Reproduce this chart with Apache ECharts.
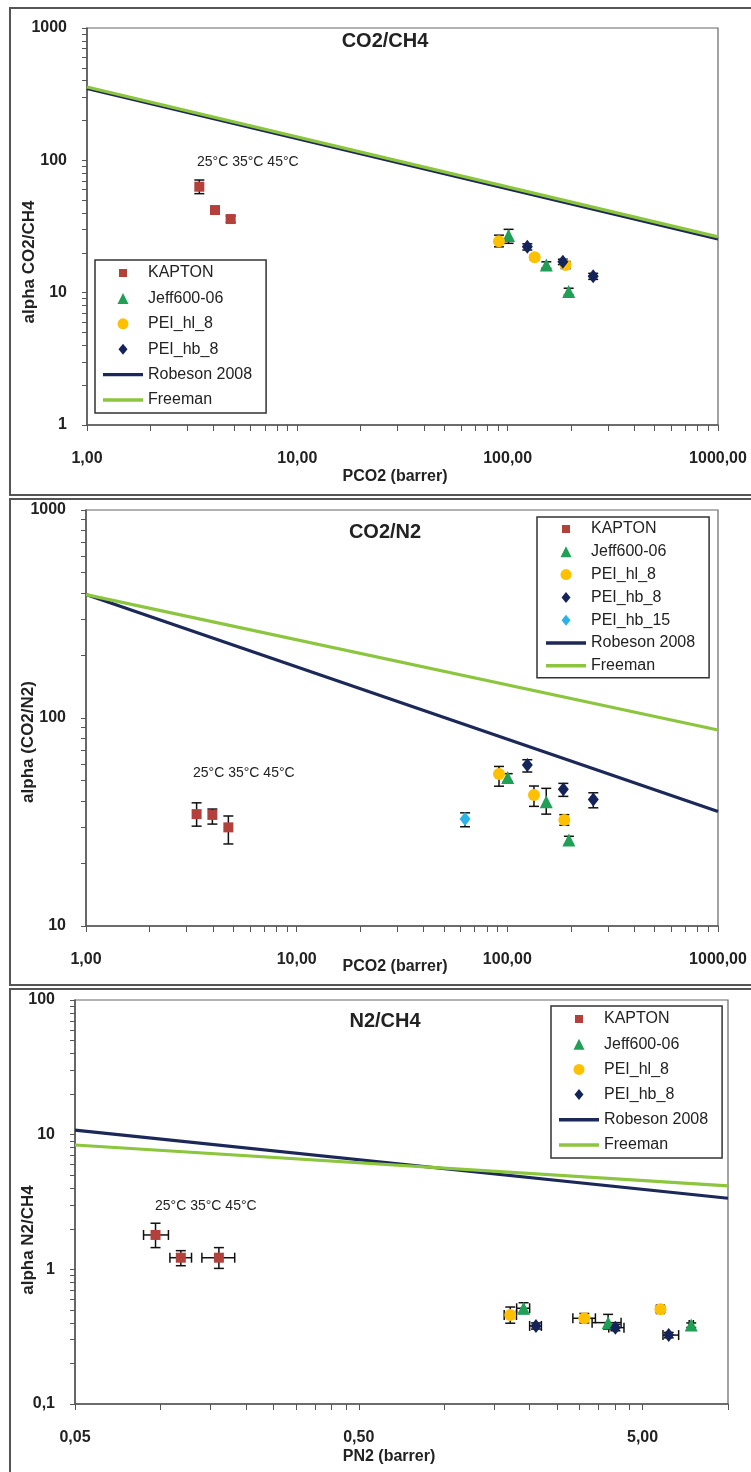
<!DOCTYPE html>
<html><head><meta charset="utf-8">
<script src="https://cdn.jsdelivr.net/npm/echarts@6/dist/echarts.min.js"></script>
<style>html,body{margin:0;padding:0;background:#fff}#c{width:751px;height:1472px}</style>
</head><body><div id="c"></div>
<script>
// ---------- DATA ----------
// points: [x, y, yLow, yHigh]  (panel 3 adds xLow, xHigh)
// Panel 1 : CO2/CH4 vs PCO2
const p1_KAPTON  = [[3.42, 63.2, 56, 71], [4.06, 42.1, 39.5, 44.5], [4.82, 36.0, 34, 38]];
const p1_Jeff    = [[101, 27.0, 23.6, 30.1], [152.7, 16.2, 15.3, 17.1], [195, 10.2, 9.6, 10.8]];
const p1_PEI_hl8 = [[90.9, 24.5, 22.2, 27.2], [134.4, 18.5, 17.8, 19.2], [188.6, 16.2, 15.2, 17.2]];
const p1_PEI_hb8 = [[124, 22.2, 21, 23.4], [183, 17.1, 16.3, 17.9], [255, 13.3, 12.6, 14]];
const p1_Robeson = [[1, 350], [1000, 25.5]];
const p1_Freeman = [[1, 358], [1000, 26.4]];

// Panel 2 : CO2/N2 vs PCO2
const p2_KAPTON   = [[3.35, 34.5, 30.2, 39.1], [3.98, 34.2, 30.9, 36.5], [4.74, 29.8, 24.8, 33.8]];
const p2_Jeff     = [[100.4, 51.8, 49.5, 54], [153, 39.6, 34.5, 45.9], [196, 25.9, 24.8, 27]];
const p2_PEI_hl8  = [[91.3, 53.8, 47, 58.5], [133.8, 42.6, 37.6, 47.1], [186.4, 32.3, 30.5, 34.3]];
const p2_PEI_hb8  = [[124.4, 59.4, 55, 63], [184.4, 45.4, 42, 48.5], [255.9, 40.6, 37, 43.7]];
const p2_PEI_hb15 = [[63, 32.7, 30, 35]];
const p2_Robeson  = [[1, 392], [1000, 35.5]];
const p2_Freeman  = [[1, 392], [1000, 87.6]];

// Panel 3 : N2/CH4 vs PN2   [x, y, yLow, yHigh, xLow, xHigh]
const p3_KAPTON  = [[0.0961, 1.80, 1.45, 2.20, 0.0872, 0.1067], [0.118, 1.22, 1.064, 1.376, 0.108, 0.1287], [0.1607, 1.22, 1.016, 1.45, 0.140, 0.1827]];
const p3_Jeff    = [[1.904, 0.514, 0.47, 0.565, 1.80, 2.0], [3.78, 0.402, 0.36, 0.463, 3.32, 4.2], [7.42, 0.386, 0.37, 0.40, 7.3, 7.55]];
const p3_PEI_hl8 = [[1.709, 0.458, 0.398, 0.525, 1.627, 1.797], [3.117, 0.433, 0.40, 0.47, 2.84, 3.41], [5.78, 0.505, 0.48, 0.53, 5.6, 5.95]];
const p3_PEI_hb8 = [[2.105, 0.38, 0.36, 0.40, 2.0, 2.2], [4.01, 0.369, 0.35, 0.39, 3.8, 4.3], [6.18, 0.325, 0.31, 0.34, 5.9, 6.7]];
const p3_Robeson = [[0.05, 10.8], [10, 3.37]];
const p3_Freeman = [[0.05, 8.38], [10, 4.16]];

// Tick values and labels
const p1_xTicks = [1, 10, 100, 1000];      const p1_xLabels = ['1,00', '10,00', '100,00', '1000,00'];
const p1_yTicks = [1, 10, 100, 1000];      const p1_yLabels = ['1', '10', '100', '1000'];
const p2_xTicks = [1, 10, 100, 1000];      const p2_xLabels = ['1,00', '10,00', '100,00', '1000,00'];
const p2_yTicks = [10, 100, 1000];         const p2_yLabels = ['10', '100', '1000'];
const p3_xTicks = [0.05, 0.5, 5];          const p3_xLabels = ['0,05', '0,50', '5,00'];
const p3_yTicks = [0.1, 1, 10, 100];       const p3_yLabels = ['0,1', '1', '10', '100'];

// ---------- STYLE ----------
const SANS = "'Liberation Sans', Arial, sans-serif";
const C = {
  KAPTON: '#B3403B', Jeff: '#1FA055', hl: '#FFC000', hb: '#14235A', hb15: '#2BB3E8',
  Robeson: '#1B2858', Freeman: '#8CC63E'
};
const sym = {
  KAPTON: {symbol: 'rect', symbolSize: 10},
  Jeff: {symbol: 'triangle', symbolSize: 13},
  hl: {symbol: 'circle', symbolSize: 12},
  hb: {symbol: 'diamond', symbolSize: [11, 14]},
  hb15: {symbol: 'diamond', symbolSize: [11, 14]}
};
// legend icons drawn in a 40 x 11 box
const BOX = 'M0,0 M40,11 ';
const ICON = {
  square: 'path://' + BOX + 'M16,1.5 h8 v8 h-8 z',
  triangle: 'path://' + BOX + 'M20,0 L25.5,11 L14.5,11 z',
  circle: 'path://' + BOX + 'M25.5,5.5 A5.5,5.5 0 1 1 14.5,5.5 A5.5,5.5 0 1 1 25.5,5.5 z',
  diamond: 'path://' + BOX + 'M20,0 L24.5,5.5 L20,11 L15.5,5.5 z',
  line: 'path://' + BOX + 'M0,3.8 h40 v3.4 h-40 z'
};
const LEG = {
  'KAPTON': ICON.square, 'Jeff600-06': ICON.triangle, 'PEI_hl_8': ICON.circle,
  'PEI_hb_8': ICON.diamond, 'PEI_hb_15': ICON.diamond, 'Robeson 2008': ICON.line, 'Freeman': ICON.line
};

function allTicks(majors, max) {
  const out = [];
  majors.forEach(m => { for (let k = 1; k <= 9; k++) { const v = +(m * k).toPrecision(6); if (v <= max * 1.0000001) out.push(v); } });
  return out;
}
function labelFor(ticks, labels) {
  return function (v) {
    for (let i = 0; i < ticks.length; i++) if (Math.abs(v - ticks[i]) / ticks[i] < 1e-6) return labels[i];
    return '';
  };
}
function mkX(grid, min, max, ticks, labels) {
  return {
    type: 'log', logBase: 10, gridIndex: grid, min: min, max: max,
    axisLine: {show: true, lineStyle: {color: '#555', width: 1.5}},
    axisTick: {show: true, inside: false, length: 6, customValues: allTicks(ticks, max), lineStyle: {color: '#555', width: 1}},
    minorTick: {show: false},
    axisLabel: {show: true, customValues: ticks, formatter: labelFor(ticks, labels), margin: 26,
      fontFamily: SANS, fontWeight: 'bold', fontSize: 16, color: '#222'},
    splitLine: {show: false}
  };
}
function mkY(grid, min, max, ticks, labels) {
  return {
    type: 'log', logBase: 10, gridIndex: grid, min: min, max: max,
    axisLine: {show: true, lineStyle: {color: '#555', width: 1.5}},
    axisTick: {show: true, inside: false, length: 5, customValues: allTicks(ticks, max), lineStyle: {color: '#555', width: 1}},
    minorTick: {show: false},
    axisLabel: {show: true, customValues: ticks, formatter: labelFor(ticks, labels), margin: 20,
      fontFamily: SANS, fontWeight: 'bold', fontSize: 16, color: '#222'},
    splitLine: {show: false}
  };
}
function scatter(name, key, idx, pts) {
  return {
    type: 'scatter', name: name, xAxisIndex: idx, yAxisIndex: idx, z: 5,
    symbol: sym[key].symbol, symbolSize: sym[key].symbolSize,
    itemStyle: {color: C[key], opacity: 1},
    data: pts.map(p => [p[0], p[1]])
  };
}
function line(name, key, idx, pts) {
  return {
    type: 'line', name: name, xAxisIndex: idx, yAxisIndex: idx, z: 2,
    symbol: 'none', showSymbol: false, silent: true,
    lineStyle: {color: C[key], width: 3.2}, itemStyle: {color: C[key]},
    data: pts
  };
}
function renderErr(params, api) {
  const x = api.value(0), y = api.value(1);
  const lo = api.value(2), hi = api.value(3), xl = api.value(4), xh = api.value(5);
  const st = {stroke: '#111', lineWidth: 1.5};
  const cap = 5;
  const ch = [];
  if (isFinite(lo) && isFinite(hi)) {
    const a = api.coord([x, lo]), b = api.coord([x, hi]);
    ch.push({type: 'line', shape: {x1: a[0], y1: a[1], x2: b[0], y2: b[1]}, style: st});
    ch.push({type: 'line', shape: {x1: a[0] - cap, y1: a[1], x2: a[0] + cap, y2: a[1]}, style: st});
    ch.push({type: 'line', shape: {x1: b[0] - cap, y1: b[1], x2: b[0] + cap, y2: b[1]}, style: st});
  }
  if (isFinite(xl) && isFinite(xh)) {
    const a = api.coord([xl, y]), b = api.coord([xh, y]);
    ch.push({type: 'line', shape: {x1: a[0], y1: a[1], x2: b[0], y2: b[1]}, style: st});
    ch.push({type: 'line', shape: {x1: a[0], y1: a[1] - cap, x2: a[0], y2: a[1] + cap}, style: st});
    ch.push({type: 'line', shape: {x1: b[0], y1: b[1] - cap, x2: b[0], y2: b[1] + cap}, style: st});
  }
  return {type: 'group', children: ch};
}
function errors(idx, groups) {
  const d = [];
  groups.forEach(g => g.forEach(p => d.push([p[0], p[1], p[2], p[3], p.length > 4 ? p[4] : NaN, p.length > 5 ? p[5] : NaN])));
  return {
    type: 'custom', name: 'err' + idx, xAxisIndex: idx, yAxisIndex: idx, z: 4, silent: true,
    renderItem: renderErr, encode: {x: 0, y: 1}, data: d
  };
}
function legend(left, top, list, gap, pad) {
  return {
    orient: 'vertical', left: left, top: top, itemGap: gap,
    data: list.map(n => ({name: n, icon: LEG[n]})),
    itemWidth: 40, itemHeight: 11, padding: pad, selectedMode: false,
    borderColor: '#333', borderWidth: 1.5, backgroundColor: '#fff',
    textStyle: {fontFamily: SANS, fontSize: 16, lineHeight: 18, color: '#222'}
  };
}
function txt(x, y, s, font, align, rot) {
  return {type: 'text', x: x, y: y, rotation: rot || 0,
    style: {text: s, font: font, fill: '#222', align: align || 'center', verticalAlign: 'middle'}, z: 10};
}

const chart = echarts.init(document.getElementById('c'), null, {renderer: 'canvas'});
const four = ['KAPTON', 'Jeff600-06', 'PEI_hl_8', 'PEI_hb_8', 'Robeson 2008', 'Freeman'];
const five = ['KAPTON', 'Jeff600-06', 'PEI_hl_8', 'PEI_hb_8', 'PEI_hb_15', 'Robeson 2008', 'Freeman'];
const option = {
  animation: false,
  backgroundColor: '#fff',
  grid: [
    {left: 87, top: 28, width: 631, height: 397, show: true, borderColor: '#666', borderWidth: 1.2, backgroundColor: 'transparent'},
    {left: 86, top: 510, width: 632, height: 416, show: true, borderColor: '#666', borderWidth: 1.2, backgroundColor: 'transparent'},
    {left: 75, top: 1000, width: 653, height: 404, show: true, borderColor: '#666', borderWidth: 1.2, backgroundColor: 'transparent'}
  ],
  xAxis: [mkX(0, 1, 1000, p1_xTicks, p1_xLabels), mkX(1, 1, 1000, p2_xTicks, p2_xLabels), mkX(2, 0.05, 10, p3_xTicks, p3_xLabels)],
  yAxis: [mkY(0, 1, 1000, p1_yTicks, p1_yLabels), mkY(1, 10, 1000, p2_yTicks, p2_yLabels), mkY(2, 0.1, 100, p3_yTicks, p3_yLabels)],
  legend: [
    legend(95, 260, four, 7.4, [4, 14, 4, 8]),
    legend(537, 517, five, 4.8, [3, 14, 3, 9]),
    legend(551, 1006, four, 7.2, [4, 14, 4, 8])
  ],
  series: [
    line('Robeson 2008', 'Robeson', 0, p1_Robeson), line('Freeman', 'Freeman', 0, p1_Freeman),
    errors(0, [p1_KAPTON, p1_Jeff, p1_PEI_hl8, p1_PEI_hb8]),
    scatter('KAPTON', 'KAPTON', 0, p1_KAPTON), scatter('Jeff600-06', 'Jeff', 0, p1_Jeff),
    scatter('PEI_hl_8', 'hl', 0, p1_PEI_hl8), scatter('PEI_hb_8', 'hb', 0, p1_PEI_hb8),

    line('Robeson 2008', 'Robeson', 1, p2_Robeson), line('Freeman', 'Freeman', 1, p2_Freeman),
    errors(1, [p2_KAPTON, p2_Jeff, p2_PEI_hl8, p2_PEI_hb8, p2_PEI_hb15]),
    scatter('KAPTON', 'KAPTON', 1, p2_KAPTON), scatter('Jeff600-06', 'Jeff', 1, p2_Jeff),
    scatter('PEI_hl_8', 'hl', 1, p2_PEI_hl8), scatter('PEI_hb_8', 'hb', 1, p2_PEI_hb8),
    scatter('PEI_hb_15', 'hb15', 1, p2_PEI_hb15),

    line('Robeson 2008', 'Robeson', 2, p3_Robeson), line('Freeman', 'Freeman', 2, p3_Freeman),
    errors(2, [p3_KAPTON, p3_Jeff, p3_PEI_hl8, p3_PEI_hb8]),
    scatter('KAPTON', 'KAPTON', 2, p3_KAPTON), scatter('Jeff600-06', 'Jeff', 2, p3_Jeff),
    scatter('PEI_hl_8', 'hl', 2, p3_PEI_hl8), scatter('PEI_hb_8', 'hb', 2, p3_PEI_hb8)
  ],
  graphic: [
    {type: 'rect', shape: {x: 10, y: 8, width: 760, height: 487}, style: {fill: 'none', stroke: '#555', lineWidth: 2}, z: 0, silent: true},
    {type: 'rect', shape: {x: 10, y: 499, width: 760, height: 486}, style: {fill: 'none', stroke: '#555', lineWidth: 2}, z: 0, silent: true},
    {type: 'rect', shape: {x: 10, y: 989, width: 760, height: 500}, style: {fill: 'none', stroke: '#555', lineWidth: 2}, z: 0, silent: true},
    txt(385, 41, 'CO2/CH4', 'bold 20px ' + SANS),
    txt(385, 532, 'CO2/N2', 'bold 20px ' + SANS),
    txt(385, 1021, 'N2/CH4', 'bold 20px ' + SANS),
    txt(395, 477, 'PCO2 (barrer)', 'bold 16px ' + SANS),
    txt(395, 967, 'PCO2 (barrer)', 'bold 16px ' + SANS),
    txt(389, 1457, 'PN2 (barrer)', 'bold 16px ' + SANS),
    txt(29, 262, 'alpha CO2/CH4', 'bold 17px ' + SANS, 'center', Math.PI / 2),
    txt(28, 742, 'alpha (CO2/N2)', 'bold 17px ' + SANS, 'center', Math.PI / 2),
    txt(28, 1240, 'alpha N2/CH4', 'bold 17px ' + SANS, 'center', Math.PI / 2),
    txt(197, 162, '25°C 35°C 45°C', '14px ' + SANS, 'left'),
    txt(193, 773, '25°C 35°C 45°C', '14px ' + SANS, 'left'),
    txt(155, 1206, '25°C 35°C 45°C', '14px ' + SANS, 'left')
  ]
};
chart.setOption(option);
</script></body></html>
